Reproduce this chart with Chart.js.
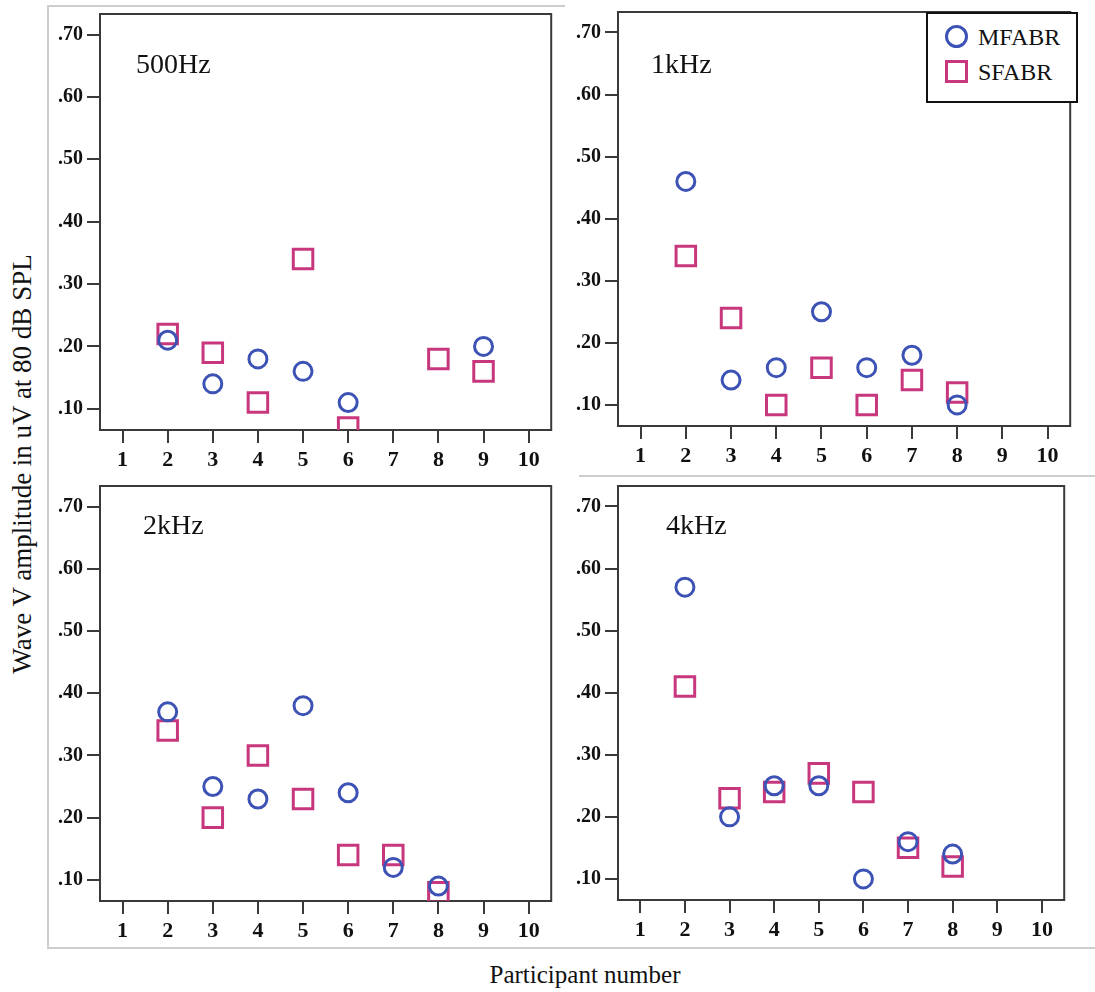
<!DOCTYPE html>
<html>
<head>
<meta charset="utf-8">
<script src="https://cdn.jsdelivr.net/npm/chart.js@4.4.0/dist/chart.umd.min.js"></script>
<style>
body { margin: 0; background: #fff; }
#page { position: relative; width: 1095px; height: 992px; overflow: hidden; font-family: "Liberation Serif", "Times New Roman", serif; color: #111; }
canvas { position: absolute; }
.gray { position: absolute; background: #cdcdcd; }
.freq { position: absolute; font-size: 28px; line-height: 1; white-space: nowrap; }
#legend { position: absolute; left: 926px; top: 12px; width: 152px; height: 91px; box-sizing: border-box; border: 2px solid #111; background: #fff; font-size: 24px; }
#legend .row { position: absolute; left: 0; height: 30px; line-height: 30px; }
#legend .mk { position: absolute; left: 17px; top: 3px; width: 17px; height: 17px; border: 3px solid; }
#legend .txt { position: absolute; left: 50px; top: 0; white-space: nowrap; }
#ytitle { position: absolute; left: 22px; top: 464px; font-size: 27px; white-space: nowrap; transform: translate(-50%, -50%) rotate(-90deg); }
#xtitle { position: absolute; left: 585px; top: 975px; font-size: 25px; white-space: nowrap; transform: translate(-50%, -50%); }
</style>
</head>
<body>
<div id="page">
  <div class="gray" style="left:47px; top:6px; width:2px; height:943px;"></div>
  <div class="gray" style="left:47px; top:5px; width:518px; height:2px;"></div>
  <div class="gray" style="left:579px; top:475px; width:516px; height:2px;"></div>
  <div class="gray" style="left:47px; top:947px; width:1048px; height:2px;"></div>

  <canvas id="c500"></canvas>
  <canvas id="c1k"></canvas>
  <canvas id="c2k"></canvas>
  <canvas id="c4k"></canvas>

  <div class="freq" style="left:136px; top:50px;">500Hz</div>
  <div class="freq" style="left:651px; top:50px;">1kHz</div>
  <div class="freq" style="left:143px; top:511px;">2kHz</div>
  <div class="freq" style="left:666px; top:511px;">4kHz</div>

  <div id="legend">
    <div class="row" style="top:8px;"><div class="mk" id="mkM" style="border-radius:50%;"></div><div class="txt" id="lgM"></div></div>
    <div class="row" style="top:43px;"><div class="mk" id="mkS"></div><div class="txt" id="lgS"></div></div>
  </div>

  <div id="ytitle">Wave V amplitude in uV at 80 dB SPL</div>
  <div id="xtitle">Participant number</div>
</div>

<script>
// participant numbers on the x axis
const participants = [1, 2, 3, 4, 5, 6, 7, 8, 9, 10];
const yTicks = [0.10, 0.20, 0.30, 0.40, 0.50, 0.60, 0.70];
const yTickLabels = ['.10', '.20', '.30', '.40', '.50', '.60', '.70'];
const seriesNames = ['MFABR', 'SFABR'];

// wave V amplitude per participant (null = no response)
const mf500 = [null, 0.21, 0.14, 0.18, 0.16, 0.11, null, null, 0.20, null];
const sf500 = [null, 0.22, 0.19, 0.11, 0.34, 0.07, null, 0.18, 0.16, null];
const mf1k  = [null, 0.46, 0.14, 0.16, 0.25, 0.16, 0.18, 0.10, null, null];
const sf1k  = [null, 0.34, 0.24, 0.10, 0.16, 0.10, 0.14, 0.12, null, null];
const mf2k  = [null, 0.37, 0.25, 0.23, 0.38, 0.24, 0.12, 0.09, null, null];
const sf2k  = [null, 0.34, 0.20, 0.30, 0.23, 0.14, 0.14, 0.08, null, null];
const mf4k  = [null, 0.57, 0.20, 0.25, 0.25, 0.10, 0.16, 0.14, null, null];
const sf4k  = [null, 0.41, 0.23, 0.24, 0.27, 0.24, 0.15, 0.12, null, null];

const blue = 'rgb(60, 82, 180)';
const pink = 'rgb(200, 55, 125)';

document.getElementById('mkM').style.borderColor = blue;
document.getElementById('mkS').style.borderColor = pink;
document.getElementById('lgM').textContent = seriesNames[0];
document.getElementById('lgS').textContent = seriesNames[1];

const framePlugin = {
    id: 'frame',
    beforeDatasetsDraw(chart) {
        const a = chart.chartArea;
        const ctx = chart.ctx;
        ctx.save();
        ctx.strokeStyle = '#3a3a3a';
        ctx.lineWidth = 2;
        ctx.strokeRect(a.left, a.top, a.right - a.left, a.bottom - a.top);
        ctx.restore();
    }
};

function toPoints(arr) {
    return participants.map((p, i) => ({x: p, y: arr[i]})).filter(d => d.y !== null);
}

const padL = 55, padT = 20, padR = 10, padB = 45;
const serif = '"Liberation Serif", "Times New Roman", serif';

function CreateChart(id, frame, mf, sf) {
    const cv = document.getElementById(id);
    cv.width = frame.r - frame.l + padL + padR;
    cv.height = frame.b - frame.t + padT + padB;
    cv.style.left = (frame.l - padL) + 'px';
    cv.style.top = (frame.t - padT) + 'px';

    return new Chart(cv.getContext('2d'), {
        type: 'scatter',
        data: {
            datasets: [{
                label: seriesNames[0],
                data: toPoints(mf),
                pointStyle: 'circle',
                pointRadius: 9,
                pointHoverRadius: 9,
                borderWidth: 3,
                borderColor: blue,
                backgroundColor: 'rgba(0,0,0,0)',
                clip: 0
            }, {
                label: seriesNames[1],
                data: toPoints(sf),
                pointStyle: 'rect',
                pointRadius: 13.8,
                pointHoverRadius: 13.8,
                borderWidth: 3,
                borderColor: pink,
                backgroundColor: 'rgba(0,0,0,0)',
                clip: 0
            }]
        },
        options: {
            responsive: false,
            animation: false,
            layout: {padding: {left: 0, top: padT, right: padR, bottom: 0}},
            plugins: {legend: {display: false}, tooltip: {enabled: false}},
            scales: {
                x: {
                    type: 'linear',
                    min: 0.5,
                    max: 10.5,
                    afterBuildTicks: s => { s.ticks = participants.map(v => ({value: v})); },
                    afterFit: s => { s.height = padB; },
                    grid: {drawOnChartArea: false, drawTicks: true, tickLength: 13, color: '#3a3a3a', lineWidth: 2},
                    border: {display: false},
                    ticks: {color: '#111', font: {family: serif, size: 22, weight: 'bold'}, padding: 4,
                        maxRotation: 0, autoSkip: false, callback: v => String(v)}
                },
                y: {
                    type: 'linear',
                    min: 0.066,
                    max: 0.733,
                    afterBuildTicks: s => { s.ticks = yTicks.map(v => ({value: v})); },
                    afterFit: s => { s.width = padL; },
                    grid: {drawOnChartArea: false, drawTicks: true, tickLength: 13, color: '#3a3a3a', lineWidth: 2},
                    border: {display: false},
                    ticks: {color: '#111', font: {family: serif, size: 20, weight: 'bold'}, padding: 4,
                        autoSkip: false, callback: (v, i) => yTickLabels[i]}
                }
            }
        },
        plugins: [framePlugin]
    });
}

CreateChart('c500', {l: 100, t: 14, r: 558, b: 430}, mf500, sf500);
CreateChart('c1k',  {l: 618, t: 12, r: 1077, b: 426}, mf1k, sf1k);
CreateChart('c2k',  {l: 100, t: 486, r: 558, b: 901}, mf2k, sf2k);
CreateChart('c4k',  {l: 618, t: 486, r: 1071, b: 900}, mf4k, sf4k);
</script>
</body>
</html>
